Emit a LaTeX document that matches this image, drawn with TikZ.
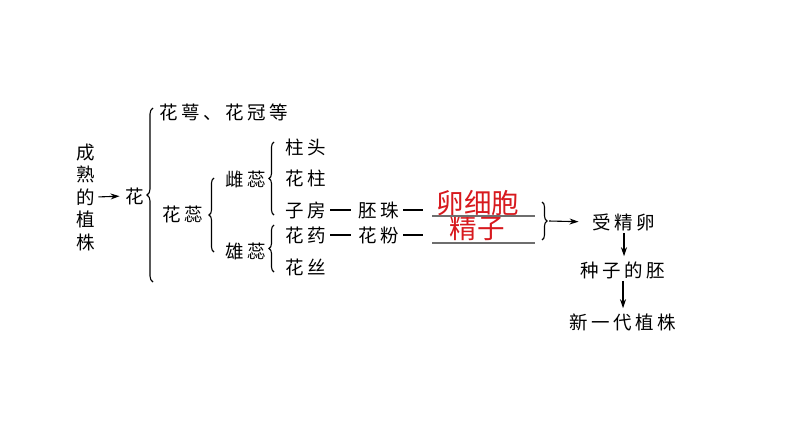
\documentclass[tikz,border=0pt]{standalone}
\usepackage{fontspec}
\usetikzlibrary{arrows.meta,decorations.pathreplacing}
\newfontfamily\cjk[LetterSpace=19]{Noto Sans CJK SC}
\newfontfamily\cjkred{Noto Sans CJK SC}
\definecolor{ansred}{RGB}{215,25,30}
\definecolor{ulgray}{RGB}{110,110,110}
\begin{document}
\begin{tikzpicture}[x=1pt,y=-1pt,
  txt/.style={font=\cjk\fontsize{18.5}{22.5}\selectfont, inner sep=1pt},
  redtxt/.style={font=\cjkred\fontsize{27.5}{30}\selectfont, text=ansred, inner sep=0pt},
  brc/.style={decorate, decoration={brace, amplitude=#1}, line width=1.1pt},
  brc/.default=5,
  arr/.style={-{Stealth[length=9pt,width=6pt]}, line width=1.1pt},
  dsh/.style={line width=1.1pt},
  ul/.style={draw=ulgray, line width=1.1pt}]
\useasboundingbox (0,0) rectangle (794,447);
% left part
\node[txt, align=center] (plant) at (86,197) {成\\熟\\的\\植\\株};
\node[txt] (flower) at (135,196) {花};
\node[txt, anchor=west] (sepal) at (158,112) {花萼、花冠等};
\node[txt] (stamens) at (183,214) {花蕊};
\node[txt] (pistil) at (246,179) {雌蕊};
\node[txt] (stamen) at (246,251) {雄蕊};
\node[txt] (stigma) at (306,147) {柱头};
\node[txt] (style) at (306,178) {花柱};
\node[txt] (ovary) at (306,210) {子房};
\node[txt] (anther) at (306,235) {花药};
\node[txt] (filament) at (306,267) {花丝};
\node[txt] (ovule) at (379,210) {胚珠};
\node[txt] (pollen) at (379,235) {花粉};
\node[redtxt] (egg) at (478,203) {卵细胞};
\node[redtxt] (sperm) at (477,228) {精子};
\node[txt] (zygote) at (624,222) {受精卵};
\node[txt] (embryo) at (623,270) {种子的胚};
\node[txt] (newgen) at (623,322) {新一代植株};
% braces
\draw[brc=6] (153,282) -- (153,108);
\draw[brc] (214,252) -- (214,178);
\draw[brc] (274,215) -- (274,142);
\draw[brc] (274,272) -- (274,225);
\draw[brc] (542,202) -- (542,240);
% arrows
\draw[arr, shorten <=2pt, shorten >=5pt] (plant.east) -- (flower.west);
\coordinate (bt) at (549,221);
\draw[arr, shorten >=13pt] (bt) -- (zygote.west);
\draw[arr, shorten <=1pt, shorten >=4pt] (zygote.south) -- (zygote.south |- embryo.north);
\draw[arr, shorten <=1pt, shorten >=4pt] (embryo.south) -- (embryo.south |- newgen.north);
% dashes
\coordinate (u1a) at (432,216);
\coordinate (u1b) at (535,216);
\coordinate (u2a) at (432,243);
\coordinate (u2b) at (535,243);
\draw[dsh, shorten <=3pt, shorten >=7pt] (ovary.east) -- (ovule.west);
\draw[dsh, shorten <=3pt, shorten >=7pt] (anther.east) -- (pollen.west);
\draw[dsh, shorten <=3pt, shorten >=9pt] (ovule.east) -- (ovule.east -| u1a);
\draw[dsh, shorten <=3pt, shorten >=9pt] (pollen.east) -- (pollen.east -| u2a);
\draw[ul] (u1a) -- (u1b);
\draw[ul] (u2a) -- (u2b);
\end{tikzpicture}
\end{document}
